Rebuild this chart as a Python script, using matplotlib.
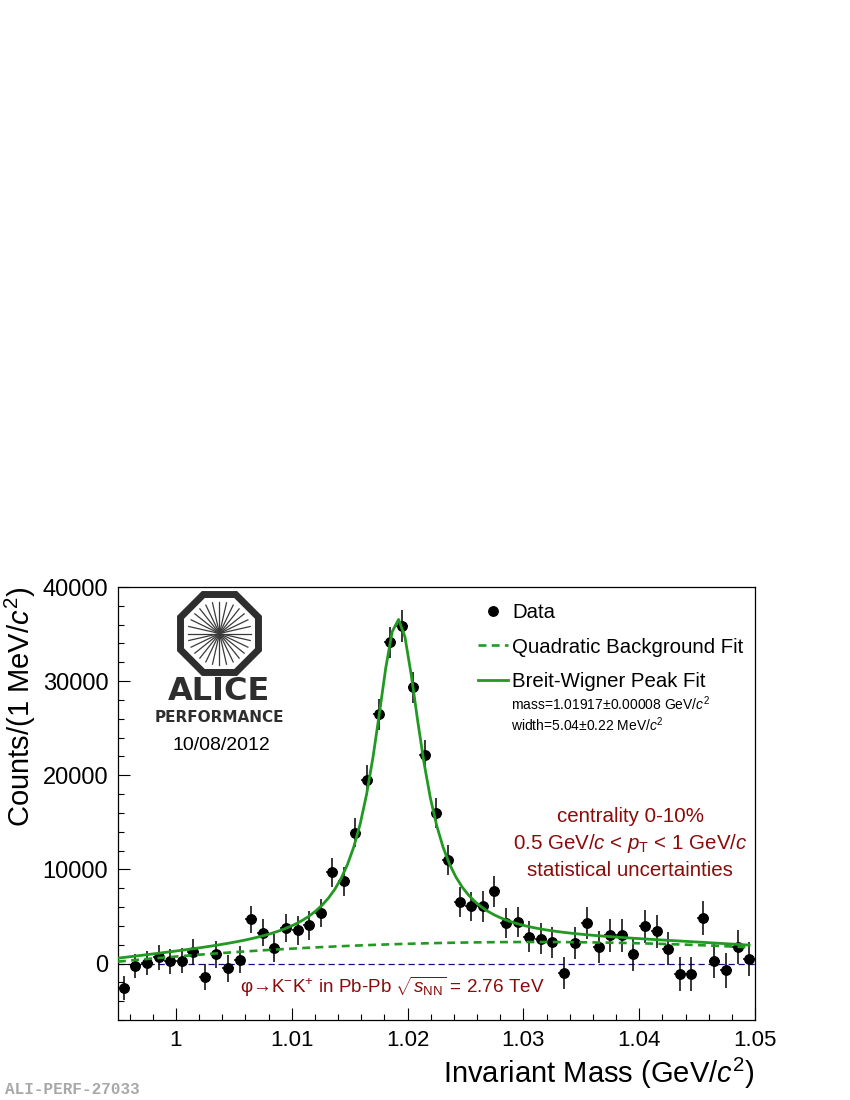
import numpy as np
import matplotlib
matplotlib.use('Agg')
import matplotlib.pyplot as plt
from matplotlib.patches import RegularPolygon
from matplotlib.ticker import MultipleLocator, FixedLocator, FuncFormatter

plt.rcParams['font.family'] = ['Liberation Sans', 'DejaVu Sans']
plt.rcParams['mathtext.fontset'] = 'custom'
plt.rcParams['mathtext.rm'] = 'Liberation Sans'
plt.rcParams['mathtext.it'] = 'Liberation Sans:italic'
plt.rcParams['mathtext.bf'] = 'Liberation Sans:bold'

# histogram: 1 MeV bins starting at 0.995 GeV/c^2
bin_start = 0.995
bin_width = 0.001
counts = [-2590, -290, 30, 670, 250, 320, 1200, -1450, 960, -500, 390,
          4680, 3260, 1630, 3760, 3510, 4040, 5350, 9710, 8720, 13900,
          19470, 26460, 34120, 35850, 29330, 22160, 16030,
          10960, 6520, 6060, 6060, 7660, 4290, 4400, 2870, 2620, 2270, -1030, 2160, 4290,
          1740, 2980, 2980, 960, 3940, 3440, 1560, -1100, -1100, 4820, 290, -740, 1740, 500]
errors = [1250, 1280, 1300, 1320, 1330, 1350, 1370, 1380, 1400, 1410, 1420,
          1440, 1450, 1460, 1470, 1490, 1500, 1510, 1530, 1550, 1570,
          1590, 1620, 1650, 1660, 1640, 1620, 1600,
          1580, 1580, 1590, 1600, 1610, 1620, 1630, 1640, 1650, 1660, 1670, 1680, 1690,
          1700, 1710, 1720, 1730, 1740, 1750, 1760, 1770, 1780, 1790, 1800, 1810, 1820, 1830]

# fit results
fit_range = (0.995, 1.0495)
bw_mass = 1.01917
bw_width = 0.00504
bw_height = 34500
bkg_coef = [200.0, 116.4, -1.624]   # quadratic in (m - 0.995) measured in MeV

x_ticks = [1.0, 1.01, 1.02, 1.03, 1.04, 1.05]
y_ticks = [0, 10000, 20000, 30000, 40000]

centers = bin_start + bin_width * (np.arange(len(counts)) + 0.5)

fit_x = np.linspace(fit_range[0], fit_range[1], 100)
t = (fit_x - 0.995) * 1000.0
bkg = bkg_coef[0] + bkg_coef[1] * t + bkg_coef[2] * t ** 2
half = bw_width / 2.0
peak = bw_height * half ** 2 / ((fit_x - bw_mass) ** 2 + half ** 2)
total = bkg + peak

green = '#229922'
darkred = '#8b0a0a'

fig = plt.figure(figsize=(8.5, 11), dpi=100)
ax = fig.add_axes([118 / 850, 1 - 1020 / 1100, 637 / 850, 433 / 1100])

ax.axhline(0, color='#10108a', lw=0.9, ls=(0, (5, 3)), zorder=1)
ax.errorbar(centers, counts, yerr=errors, xerr=bin_width / 2, fmt='none',
            ecolor='black', elinewidth=1.1, capsize=0, zorder=2)
data_pts, = ax.plot(centers, counts, 'o', color='black', ms=6.8, zorder=3, label='Data')
bkg_line, = ax.plot(fit_x, bkg, color=green, lw=1.9, ls=(0, (3, 2)), zorder=4,
                    label='Quadratic Background Fit')
tot_line, = ax.plot(fit_x, total, color=green, lw=2.0, zorder=5,
                    label='Breit-Wigner Peak Fit')

ax.set_xlim(0.995, 1.05)
ax.set_ylim(-6000, 40000)

ax.xaxis.set_major_locator(FixedLocator(x_ticks))
ax.xaxis.set_minor_locator(MultipleLocator(0.002))
ax.yaxis.set_major_locator(FixedLocator(y_ticks))
ax.yaxis.set_minor_locator(MultipleLocator(2000))
ax.xaxis.set_major_formatter(FuncFormatter(lambda v, p: '%g' % round(v, 3)))
ax.yaxis.set_major_formatter(FuncFormatter(lambda v, p: '%d' % v))

ax.tick_params(which='both', direction='in', top=False, right=False, width=0.8, labelsize=16)
ax.tick_params(axis='y', labelsize=17)
ax.tick_params(which='major', length=8.5, pad=7)
ax.tick_params(which='minor', length=4.3)
for s in ax.spines.values():
    s.set_linewidth(0.9)

ax.set_xlabel(r'Invariant Mass (GeV/$c^{2}$)', fontsize=21, loc='right', labelpad=4)
ax.set_ylabel(r'Counts/(1 MeV/$c^{2}$)', fontsize=21, loc='top', labelpad=3.5)

leg = ax.legend(handles=[data_pts, bkg_line, tot_line], loc='upper left',
                bbox_to_anchor=(0.565, 0.962), frameon=False, fontsize=14.7,
                borderpad=0, borderaxespad=0, handlelength=1.47, handletextpad=0.2,
                labelspacing=0.74)

ax.text(0.617, 0.730, r'mass=1.01917±0.00008 GeV/$c^{2}$', transform=ax.transAxes,
        fontsize=10, va='center', ha='left')
ax.text(0.617, 0.681, r'width=5.04±0.22 MeV/$c^{2}$', transform=ax.transAxes,
        fontsize=10, va='center', ha='left')

ax.text(0.804, 0.471, 'centrality 0-10%', transform=ax.transAxes, fontsize=14.8,
        color=darkred, ha='center', va='center')
ax.text(0.804, 0.4065, r'0.5 GeV/$c$ < $p_{\rm T}$ < 1 GeV/$c$', transform=ax.transAxes,
        fontsize=14.8, color=darkred, ha='center', va='center')
ax.text(0.804, 0.3464, 'statistical uncertainties', transform=ax.transAxes, fontsize=14.8,
        color=darkred, ha='center', va='center')
ax.text(0.1915, 0.076, r'φ→K$^{-}$K$^{+}$ in Pb-Pb $\sqrt{s_{\rm NN}}$ = 2.76 TeV',
        transform=ax.transAxes, fontsize=13.6, color=darkred, ha='left', va='center')

# ALICE logo
logo = fig.add_axes([169.5 / 850, 1 - 683.5 / 1100, 100 / 850, 100 / 1100])
logo.set_xlim(-1, 1)
logo.set_ylim(-1, 1)
logo.axis('off')
logo.add_patch(RegularPolygon((0, 0), 8, radius=0.844, orientation=np.pi / 8,
                              fill=False, ec='#2e2e2e', lw=5))
for a in np.linspace(0, np.pi, 15)[:-1]:
    logo.plot([-0.63 * np.cos(a), 0.63 * np.cos(a)], [-0.63 * np.sin(a), 0.63 * np.sin(a)],
              color='#3a3a3a', lw=0.9)

fig.text(219 / 850, 1 - 692 / 1100, 'ALICE', fontsize=23, family='DejaVu Sans',
         weight='semibold', color='#2e2e2e', ha='center', va='center')
fig.text(219 / 850, 1 - 718 / 1100, 'PERFORMANCE', fontsize=11, family='DejaVu Sans',
         weight='bold', color='#2e2e2e', ha='center', va='center')
fig.text(221 / 850, 1 - 746 / 1100, '10/08/2012', fontsize=14, ha='center', va='center')

fig.text(5 / 850, 1 - 1090 / 1100, 'ALI-PERF-27033', fontsize=11.5, family='Liberation Mono',
         weight='bold', color='#a8a8a8', ha='left', va='center')

fig.savefig('out.png', dpi=100)
